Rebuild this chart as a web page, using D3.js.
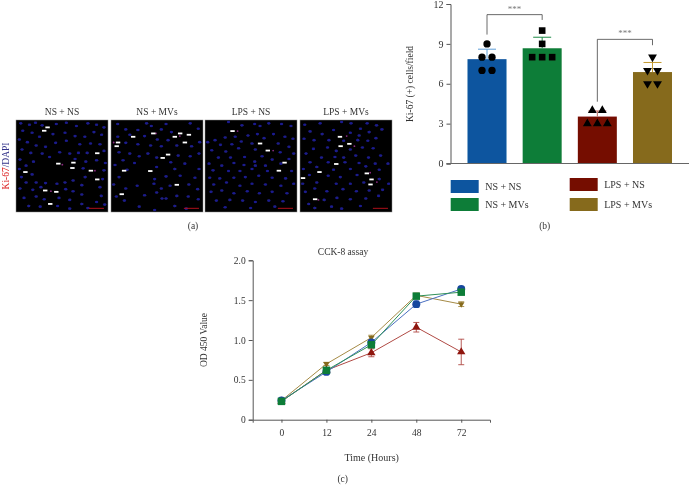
<!DOCTYPE html>
<html><head><meta charset="utf-8">
<script src="https://cdn.jsdelivr.net/npm/d3@7"></script>
<style>html,body{margin:0;padding:0;background:#fff}svg{display:block}text{font-family:"Liberation Serif",serif;fill:#333}</style>
</head><body><svg id="c" width="689" height="485"></svg>
<script>
// --- Data ---
const groups = ["NS + NS","NS + MVs","LPS + NS","LPS + MVs"];
const colors = ["#0b559f","#0f7d37","#750f06","#866b1c"];
const errColors = ["#5f9fd8","#1d8a45","#c06a60","#c49a30"];
const barMeans = [7.85,8.67,3.53,6.88];
const barErrTop = [8.6,9.5,3.95,7.6];
const barPoints = [[7,7,8,8,9],[8,8,8,9,10],[3,3,3,4,4],[6,6,7,7,8]];
const barTicks = [0,3,6,9,12];
const brackets = [{a:0,b:1,level:11.2,from:9.7,to:10.8},{a:2,b:3,level:9.34,from:4.65,to:8.9}];
const times = ["0","12","24","48","72"];
const odTicks = [0,0.5,1,1.5,2];
const odNS = [0.24,0.60,0.97,1.45,1.64];
const odNSerr = [0.02,0.02,0.03,0.04,0.03];
const odMV = [0.23,0.62,0.94,1.55,1.60];
const odMVerr = [0.02,0.02,0.03,0.03,0.02];
const odLPS = [0.23,0.62,0.84,1.16,0.85];
const odLPSerr = [0.02,0.02,0.05,0.06,0.16];
const odLM = [0.24,0.70,1.03,1.56,1.45];
const odLMerr = [0.02,0.02,0.03,0.03,0.03];
// micrograph spots, in units of an 0–274 panel
const arrows = [
 [[94,22],[84,32],[242,99],[126,130],[171,127],[168,143],[28,155],[223,151],[242,177],[87,210],[120,214],[102,250]],
 [[126,40],[66,50],[206,40],[232,44],[190,50],[21,67],[17,78],[220,67],[170,103],[154,113],[39,151],[117,152],[196,193],[32,221]],
 [[82,33],[164,70],[187,91],[237,127],[220,151]],
 [[119,50],[147,71],[121,78],[108,131],[58,155],[199,159],[213,177],[210,192],[9,173],[45,236]]];
const pinks = [
 [[235,151],[104,212],[138,133]],
 [[8,67],[205,48],[134,40]],
 [[203,91],[97,33]],
 [[139,48],[162,78],[209,157],[229,185],[55,238]]];
const cells = [
 [[14,10],[40,14],[58,8],[78,16],[120,12],[150,8],[180,18],[214,10],[240,14],[262,22],[20,32],[48,38],[70,50],[110,42],[146,38],[176,48],[205,50],[232,36],[255,44],[10,58],[34,66],[60,76],[88,80],[118,68],[150,62],[190,72],[222,70],[250,72],[18,88],[44,98],[78,100],[100,110],[130,96],[160,100],[186,98],[212,98],[262,92],[12,118],[52,124],[176,116],[208,124],[240,120],[266,128],[30,136],[10,146],[200,144],[262,150],[48,162],[16,170],[206,170],[258,176],[30,186],[60,186],[88,188],[122,190],[146,186],[170,180],[196,194],[250,200],[12,204],[50,208],[74,200],[148,206],[170,212],[196,222],[254,226],[24,232],[60,228],[84,236],[128,232],[160,238],[196,250],[240,244],[264,252],[38,256],[72,258],[124,256],[160,264],[214,262]],
 [[20,12],[44,28],[106,10],[120,18],[164,12],[236,10],[260,26],[80,30],[150,28],[180,36],[56,44],[100,48],[138,58],[170,60],[20,50],[44,68],[80,72],[118,76],[150,78],[196,76],[240,78],[264,66],[24,96],[56,100],[84,108],[110,100],[136,112],[200,106],[236,108],[262,100],[36,120],[70,128],[178,126],[220,130],[12,134],[48,148],[136,140],[190,146],[262,146],[24,170],[130,176],[164,168],[206,166],[250,172],[8,192],[44,204],[78,196],[128,190],[150,204],[176,196],[232,192],[258,206],[16,228],[40,240],[100,224],[136,216],[164,234],[152,234],[196,226],[230,228],[260,236],[84,258],[130,268],[190,256],[224,264]],
 [[70,6],[110,16],[148,12],[164,18],[190,10],[228,12],[256,18],[30,60],[60,52],[90,50],[128,46],[156,42],[204,42],[238,50],[262,56],[8,66],[46,74],[80,72],[108,64],[140,70],[176,54],[218,70],[250,80],[20,90],[62,94],[100,84],[150,88],[224,96],[264,100],[40,112],[76,112],[118,110],[170,108],[200,118],[250,116],[12,130],[50,136],[86,128],[116,134],[148,124],[150,136],[180,136],[226,130],[24,150],[70,152],[104,152],[140,146],[186,152],[258,152],[14,172],[44,174],[86,172],[120,170],[160,166],[200,172],[240,174],[26,192],[64,186],[104,196],[140,190],[180,192],[226,196],[264,190],[18,214],[50,210],[86,218],[126,212],[162,218],[200,214],[244,218],[34,240],[74,238],[112,240],[150,244],[190,240],[232,242],[60,260],[136,262],[208,258]],
 [[14,14],[60,10],[124,6],[152,10],[180,26],[200,10],[228,16],[30,34],[66,42],[100,30],[150,38],[176,46],[206,36],[244,28],[12,56],[42,60],[86,60],[130,62],[172,60],[202,62],[226,54],[40,86],[82,82],[108,92],[150,88],[186,82],[218,84],[18,100],[64,112],[104,110],[130,112],[166,106],[204,112],[240,106],[30,126],[84,126],[134,126],[176,128],[224,130],[10,146],[50,140],[100,148],[150,146],[196,138],[236,148],[262,130],[28,164],[84,166],[120,170],[170,164],[236,176],[264,190],[8,190],[50,186],[108,190],[150,190],[190,186],[16,214],[44,204],[80,212],[128,206],[168,212],[206,210],[246,208],[26,250],[72,238],[110,232],[150,236],[196,234],[234,226],[94,258],[124,264],[180,256],[44,262]]];
const panelX = [16,111,205,300];

const svg = d3.select("#c");
const defs = svg.append("defs");
defs.append("filter").attr("id","soft").attr("x","-5%").attr("y","-5%").attr("width","110%").attr("height","110%")
  .append("feGaussianBlur").attr("stdDeviation",0.35);
defs.append("filter").attr("id","cellblur").attr("x","-5%").attr("y","-5%").attr("width","110%").attr("height","110%")
  .append("feGaussianBlur").attr("stdDeviation",0.55);
const root = svg.append("g").attr("filter","url(#soft)");
const label = (x,y,t,opt={})=>root.append("text").attr("x",x).attr("y",y).attr("text-anchor",opt.anchor||"middle")
  .attr("font-size",opt.size||9.5).text(t);

// --- (a) micrographs ---
const pScale = d3.scaleLinear().domain([0,274]);
groups.forEach((g,i)=>{
  const x0 = panelX[i], y0 = 120, w = 92;
  const sx = pScale.copy().range([x0,x0+w]), sy = pScale.copy().range([y0,y0+w]);
  root.append("rect").attr("x",x0).attr("y",y0).attr("width",w).attr("height",w).attr("fill","#000").attr("stroke","#8a8a8a").attr("stroke-width",0.5);
  const p = root.append("g");
  p.append("g").attr("filter","url(#cellblur)").selectAll("ellipse").data(cells[i]).join("ellipse")
    .attr("cx",d=>sx(d[0])).attr("cy",d=>sy(d[1])).attr("rx",1.7).attr("ry",1.3).attr("fill","#1a1a8c");
  p.append("g").selectAll("circle").data(pinks[i]).join("circle")
    .attr("cx",d=>sx(d[0])).attr("cy",d=>sy(d[1])).attr("r",0.9).attr("fill","#8a2a80");
  p.append("g").selectAll("rect").data(arrows[i]).join("rect")
    .attr("x",d=>sx(d[0])-2.2).attr("y",d=>sy(d[1])-0.9).attr("width",4.4).attr("height",1.8).attr("fill","#fff");
  p.append("line").attr("x1",sx(217)).attr("x2",sx(262)).attr("y1",sy(263)).attr("y2",sy(263)).attr("stroke","#b01020").attr("stroke-width",1);
  label(x0+(i==0?46:i==1?46:46),115,g,{size:9.5});
});
const ki = root.append("text").attr("transform","translate(9,166) rotate(-90)").attr("text-anchor","middle").attr("font-size",9.5);
ki.append("tspan").attr("style","fill:#d22").text("Ki-67");
ki.append("tspan").attr("style","fill:#33338a").text("/DAPI");
label(193,229,"(a)");

// --- (b) bar chart ---
const bx = d3.scaleBand().domain(groups).range([459.4,680.1]).paddingInner(0.293).paddingOuter(0.147);
const by = d3.scaleLinear().domain([0,12]).range([163.5,4]);
const markers = [d3.symbolCircle,d3.symbolSquare,d3.symbolTriangle,d3.symbolTriangle];
const gb = root.append("g");
gb.selectAll("rect").data(groups).join("rect")
  .attr("x",d=>bx(d)).attr("y",(d,i)=>by(barMeans[i])).attr("width",bx.bandwidth()).attr("height",(d,i)=>by(0)-by(barMeans[i]))
  .attr("fill",(d,i)=>colors[i]);
groups.forEach((g,i)=>{
  const c = bx(g)+bx.bandwidth()/2;
  const eg = gb.append("g").attr("stroke",errColors[i]).attr("stroke-width",1);
  eg.append("line").attr("x1",c).attr("x2",c).attr("y1",by(barMeans[i])).attr("y2",by(barErrTop[i]));
  eg.append("line").attr("x1",c-9).attr("x2",c+9).attr("y1",by(barErrTop[i])).attr("y2",by(barErrTop[i]));
  const counts = d3.rollup(barPoints[i],v=>v.length,d=>d), seen = new Map();
  barPoints[i].forEach(v=>{
    const n = counts.get(v), k = seen.get(v)||0; seen.set(v,k+1);
    const px = c + (k-(n-1)/2)*(n==3?10:10);
    gb.append("path").attr("d",d3.symbol().type(markers[i]).size(i==0?42:i==1?44:34)())
      .attr("transform",`translate(${px},${by(v)})`+(i==3?" rotate(180)":"")).attr("fill","#000");
  });
});
const yb = root.append("g").attr("transform","translate(450.5,0)")
  .call(d3.axisLeft(by).tickValues(barTicks).tickSize(4).tickPadding(3).tickFormat(d3.format("d")));
yb.selectAll("text").attr("font-size",10);
yb.selectAll("line,path").attr("stroke","#555").attr("stroke-width",1);
root.append("line").attr("x1",446.5).attr("x2",689).attr("y1",by(0)).attr("y2",by(0)).attr("stroke","#666").attr("stroke-width",1.2);
root.append("text").attr("transform","translate(413,84) rotate(-90)").attr("text-anchor","middle").attr("font-size",9.5).text("Ki-67 (+) cells/field");
brackets.forEach(b=>{
  const xa = bx(groups[b.a])+bx.bandwidth()/2, xb = bx(groups[b.b])+bx.bandwidth()/2;
  root.append("path").attr("fill","none").attr("stroke","#444").attr("stroke-width",0.8)
    .attr("d",d3.line()([[xa,by(b.from)],[xa,by(b.level)],[xb,by(b.level)],[xb,by(b.to)]]));
  root.append("text").attr("x",(xa+xb)/2).attr("y",by(b.level)-3).attr("text-anchor","middle").attr("font-size",9).attr("style","fill:#777").text("***");
});
const legendPos = [[450.7,180],[450.7,198],[569.7,178],[569.7,198]];
groups.forEach((g,i)=>{
  const [lx,ly] = legendPos[i];
  root.append("rect").attr("x",lx).attr("y",ly).attr("width",28).attr("height",13).attr("fill",colors[i]);
  label(lx+34.5,ly+10,g,{anchor:"start",size:10});
});
label(544.7,229,"(b)");

// --- (c) line chart ---
const cx = d3.scalePoint().domain(times).range([252.7,490]).padding(0.64);
const cy = d3.scaleLinear().domain([0,2]).range([419.7,260.3]);
const xAxis = root.append("g").attr("transform","translate(0,419.7)").call(d3.axisBottom(cx).tickSize(3).tickPadding(7));
xAxis.selectAll("text").attr("font-size",9.5);
xAxis.selectAll("line,path").attr("stroke","#555");
const yAxis = root.append("g").attr("transform","translate(252.7,0)").call(d3.axisLeft(cy).tickValues(odTicks).tickSize(4).tickPadding(3).tickFormat(d=>d==0||d==1||d==2?d.toFixed(d==0?0:1):d));
yAxis.selectAll("text").attr("font-size",9.5);
yAxis.selectAll("line,path").attr("stroke","#555");
const series = [
 {v:odLM,e:odLMerr,c:colors[3],line:"#a58a45",sym:d3.symbolTriangle,size:18,flip:true},
 {v:odLPS,e:odLPSerr,c:"#8f1410",line:"#b04a44",sym:d3.symbolTriangle,size:30},
 {v:odNS,e:odNSerr,c:"#17479e",line:"#4a6fc0",sym:d3.symbolCircle,size:50},
 {v:odMV,e:odMVerr,c:colors[1],line:"#2f9058",sym:d3.symbolSquare,size:56}];
series.forEach(s=>{
  root.append("path").attr("fill","none").attr("stroke",s.line).attr("stroke-width",1)
    .attr("d",d3.line().x((d,i)=>cx(times[i])).y(d=>cy(d))(s.v));
  s.v.forEach((v,i)=>{
    const x = cx(times[i]);
    const e = root.append("g").attr("stroke",s.line).attr("stroke-width",0.9);
    e.append("line").attr("x1",x).attr("x2",x).attr("y1",cy(v-s.e[i])).attr("y2",cy(v+s.e[i]));
    [v-s.e[i],v+s.e[i]].forEach(y=>e.append("line").attr("x1",x-3).attr("x2",x+3).attr("y1",cy(y)).attr("y2",cy(y)));
    root.append("path").attr("d",d3.symbol().type(s.sym).size(s.size)())
      .attr("transform",`translate(${x},${cy(v)})`+(s.flip?" rotate(180)":"")).attr("fill",s.c);
  });
});
label(343,255,"CCK-8 assay");
label(371.7,461,"Time (Hours)",{size:10});
root.append("text").attr("transform","translate(207,340) rotate(-90)").attr("text-anchor","middle").attr("font-size",9.5).text("OD 450 Value");
label(342.7,482,"(c)");
</script></body></html>
